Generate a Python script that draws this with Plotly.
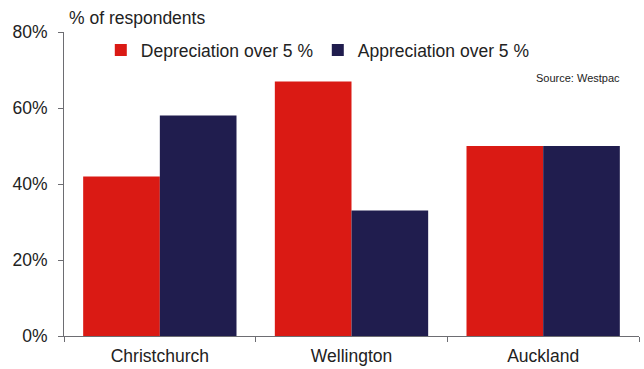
import plotly.graph_objects as go

# Survey data
cities = ["Christchurch", "Wellington", "Auckland"]
depreciation = [42, 67, 50]
appreciation = [58, 33, 50]
y_ticks = [0, 20, 40, 60, 80]
y_tick_labels = ["0%", "20%", "40%", "60%", "80%"]

RED = "#da1a14"
NAVY = "#201d4e"
FONT = "Liberation Sans, Arial, sans-serif"
TEXT = "#222222"
AXIS = "#6d6d72"
FS = 17.5

fig = go.Figure()
fig.add_trace(go.Bar(x=cities, y=depreciation, name="Depreciation over 5 %",
                     marker=dict(color=RED, line=dict(width=0))))
fig.add_trace(go.Bar(x=cities, y=appreciation, name="Appreciation over 5 %",
                     marker=dict(color=NAVY, line=dict(width=0))))

fig.update_layout(
    width=644, height=369,
    margin=dict(l=64, r=5, t=32, b=33),
    paper_bgcolor="white", plot_bgcolor="white",
    barmode="group", bargap=0.2, bargroupgap=0,
    font=dict(family=FONT, size=FS, color=TEXT),
    showlegend=True,
    legend=dict(orientation="h", x=0.064, y=0.94, xanchor="left", yanchor="middle",
                font=dict(size=FS, color=TEXT), bgcolor="rgba(0,0,0,0)",
                entrywidth=172, traceorder="normal"),
    xaxis=dict(showline=True, linecolor=AXIS, linewidth=1, ticks="outside",
               tickson="boundaries", ticklen=5, tickcolor=AXIS,
               ticklabelstandoff=4, automargin=False,
               tickfont=dict(size=FS, color=TEXT), showgrid=False),
    yaxis=dict(range=[0, 80], tickvals=y_ticks, ticktext=y_tick_labels,
               showline=True, linecolor=AXIS, linewidth=1, ticks="outside",
               ticklen=5, tickcolor=AXIS, showgrid=False, zeroline=False,
               ticklabelstandoff=7, automargin=False,
               tickfont=dict(size=FS, color=TEXT)),
    annotations=[
        dict(text="% of respondents", xref="paper", yref="paper", x=0.006, y=1.0,
             xanchor="left", yanchor="bottom", yshift=2, showarrow=False,
             font=dict(size=FS, color=TEXT)),
        dict(text="Source: Westpac", xref="paper", yref="paper", x=0.97, y=0.848,
             xanchor="right", yanchor="middle", showarrow=False,
             font=dict(size=11, color=TEXT)),
    ],
)

fig.write_html("out.html")
